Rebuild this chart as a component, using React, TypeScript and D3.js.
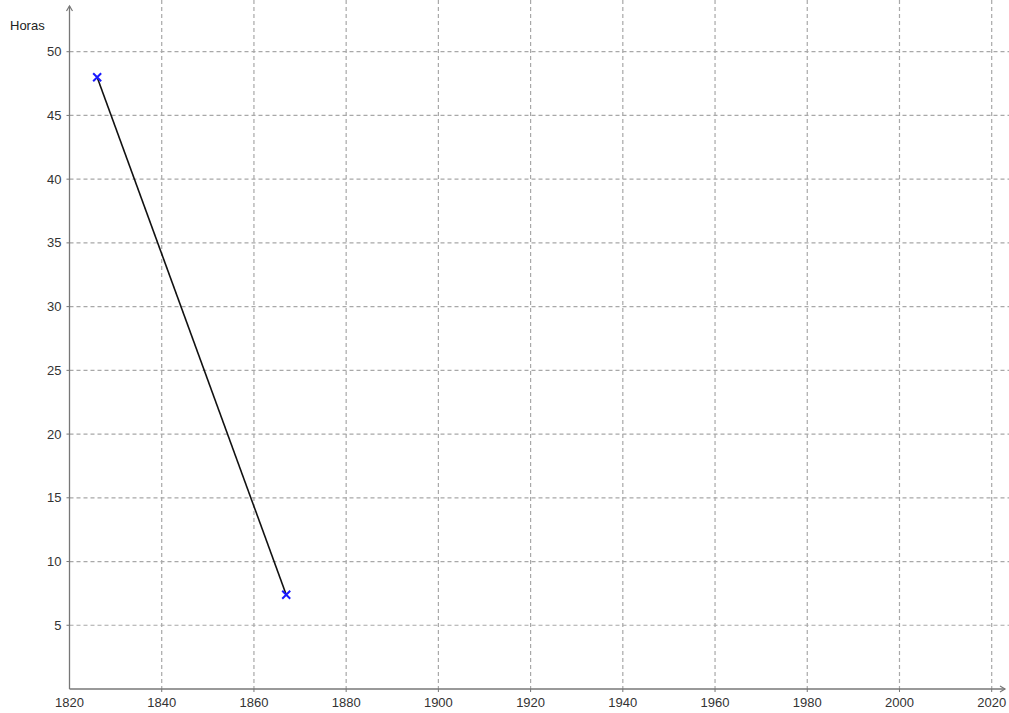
import React from "react"
import * as d3 from "d3"

const years = [1826, 1867]
const hours = [48, 7.4]
const xTicks = [1820, 1840, 1860, 1880, 1900, 1920, 1940, 1960, 1980, 2000, 2020]
const yTicks = [5, 10, 15, 20, 25, 30, 35, 40, 45, 50]

const width = 1009
const height = 713

export default function App() {
  const x = d3.scaleLinear().domain([1820, 2020]).range([69.5, 991.7])
  const y = d3.scaleLinear().domain([0, 50]).range([689, 51.7])

  const points = years.map((yr, i) => ({ yr, h: hours[i] }))
  const line = d3
    .line<{ yr: number; h: number }>()
    .x((d) => x(d.yr))
    .y((d) => y(d.h))

  const x0 = x(1820)
  const y0 = y(0)
  const grid = "#a8a8a8"
  const font = "Arial, 'Liberation Sans', sans-serif"

  return (
    <svg
      width={width}
      height={height}
      style={{ position: "absolute", left: 0, top: 0, background: "#fff" }}
      fontFamily={font}
    >
      {/* grid */}
      {xTicks.slice(1).map((t) => (
        <line
          key={"gx" + t}
          x1={x(t)}
          x2={x(t)}
          y1={0}
          y2={y0}
          stroke={grid}
          strokeWidth={1.2}
          strokeDasharray="4,3"
        />
      ))}
      {yTicks.map((t) => (
        <line
          key={"gy" + t}
          x1={x0}
          x2={width}
          y1={y(t)}
          y2={y(t)}
          stroke={grid}
          strokeWidth={1.2}
          strokeDasharray="4,3"
        />
      ))}

      {/* axes */}
      <line x1={x0} x2={x0} y1={6} y2={y0} stroke="#777" strokeWidth={1.3} />
      <path d={`M${x0 - 3},${11} L${x0},${6} L${x0 + 3},${11}`} fill="none" stroke="#777" strokeWidth={1.2} />
      <line x1={x0} x2={1005} y1={y0} y2={y0} stroke="#777" strokeWidth={1.3} />
      <path d={`M1000,${y0 - 3} L1005,${y0} L1000,${y0 + 3}`} fill="none" stroke="#777" strokeWidth={1.2} />

      {/* tick marks */}
      {yTicks.map((t) => (
        <line key={"ty" + t} x1={x0 - 3} x2={x0} y1={y(t)} y2={y(t)} stroke="#777" />
      ))}
      {xTicks.slice(1).map((t) => (
        <line key={"tx" + t} x1={x(t)} x2={x(t)} y1={y0} y2={y0 + 3} stroke="#777" />
      ))}

      {/* tick labels */}
      {yTicks.map((t) => (
        <text
          key={"ly" + t}
          x={x0 - 8}
          y={y(t) + 4.5}
          textAnchor="end"
          fontSize={13}
          fill="#333"
        >
          {t}
        </text>
      ))}
      {xTicks.map((t) => (
        <text
          key={"lx" + t}
          x={x(t)}
          y={707}
          textAnchor="middle"
          fontSize={13}
          fill="#333"
        >
          {t}
        </text>
      ))}

      <text x={10} y={30} fontSize={13} fill="#222">
        Horas
      </text>

      {/* data */}
      <path d={line(points) ?? ""} fill="none" stroke="#111" strokeWidth={1.6} />
      {points.map((p, i) => {
        const cx = x(p.yr)
        const cy = y(p.h)
        const s = 4
        return (
          <path
            key={"p" + i}
            d={`M${cx - s},${cy - s}L${cx + s},${cy + s}M${cx - s},${cy + s}L${cx + s},${cy - s}`}
            stroke="#1a1aff"
            strokeWidth={2}
          />
        )
      })}
    </svg>
  )
}
